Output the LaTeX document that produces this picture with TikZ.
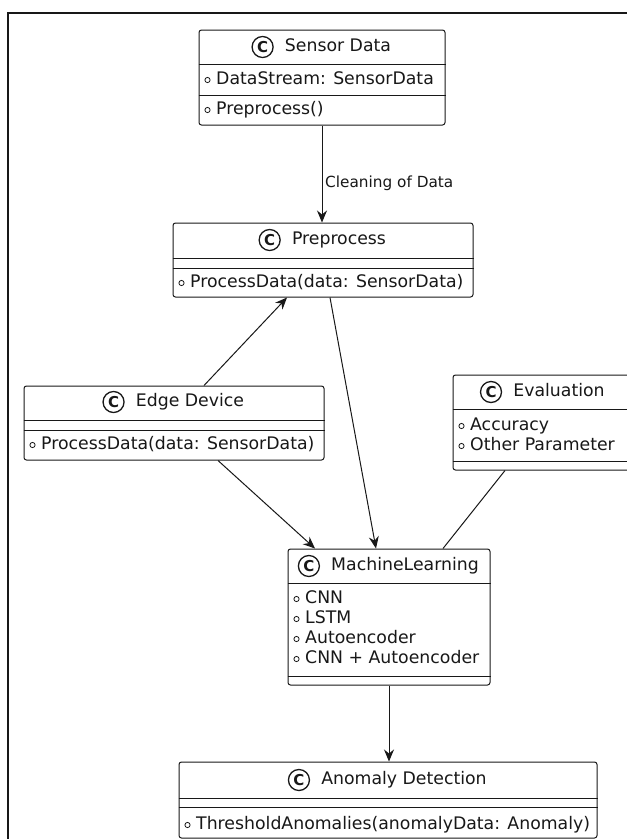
\documentclass[tikz,border=0pt]{standalone}
\usepackage{fontspec}
\setmainfont{DejaVu Sans}
\usetikzlibrary{arrows.meta,positioning,calc}
\definecolor{ink}{HTML}{181818}
\newcommand\mrow[4]{%
  \draw[dot] ($(#1.west|-0,#2)+(9,0)$) circle (2.6pt);
  \node[mem] (#3) at ($(#1.west|-0,#2)+(17.5,0)$) {#4};}
\newcommand\sepline[2]{\draw[sepl] (#1.west|-0,#2) -- (#1.east|-0,#2);}
\begin{document}
\begin{tikzpicture}[x=1pt,y=-1pt,
  cls/.style={draw=ink, line width=1pt, rounded corners=2.5pt, fill=white, inner sep=0pt},
  ttl/.style={font=\fontsize{17.3}{20}\selectfont, inner sep=0pt, text height=12.5pt, text depth=3.5pt, text=ink},
  mem/.style={ttl, anchor=west},
  cicon/.style={circle, draw=ink, line width=1.3pt, minimum size=21pt, inner sep=0pt, font=\fontsize{15}{15}\selectfont\bfseries, text=ink},
  dot/.style={draw=ink, line width=0.8pt},
  sepl/.style={draw=ink, line width=1pt},
  arr/.style={draw=ink, line width=1pt, -{Stealth[length=12pt,width=10pt,inset=4pt]}},
  lnk/.style={draw=ink, line width=1pt},
  lbl/.style={font=\fontsize{15.3}{18}\selectfont, inner sep=0pt, anchor=west, text=ink}
]
\useasboundingbox (0,0) rectangle (627,839);
\clip (0,0) rectangle (627,839);
\fill[white] (0,0) rectangle (627,839);
\draw[line width=2pt, ink] (8,860) -- (8,13) -- (650,13);

% Sensor Data
\node[cls, minimum width=246pt, minimum height=95pt] (sd) at (322,77.5) {};
\node[ttl] (sdt) at (338,47) {Sensor Data};
\node[cicon, left=11pt of sdt] (sdi) {C};
\sepline{sd}{64}
\mrow{sd}{80}{sda}{DataStream: SensorData}
\sepline{sd}{95}
\mrow{sd}{110}{sdm}{Preprocess()}

% Preprocess
\node[cls, minimum width=300pt, minimum height=74pt] (pp) at (323,260) {};
\node[ttl] (ppt) at (339,240) {Preprocess};
\node[cicon, left=11pt of ppt] (ppi) {C};
\sepline{pp}{258}
\sepline{pp}{268}
\mrow{pp}{283}{ppm}{ProcessData(data: SensorData)}

% Edge Device
\node[cls, minimum width=300pt, minimum height=74pt] (ed) at (174,423) {};
\node[ttl] (edt) at (190,402) {Edge Device};
\node[cicon, left=11pt of edt] (edi) {C};
\sepline{ed}{420}
\sepline{ed}{430}
\mrow{ed}{445}{edm}{ProcessData(data: SensorData)}

% Evaluation
\node[cls, minimum width=180pt, minimum height=95pt] (ev) at (543,422.5) {};
\node[ttl] (evt) at (559,392) {Evaluation};
\node[cicon, left=11pt of evt] (evi) {C};
\sepline{ev}{409}
\mrow{ev}{426}{eva}{Accuracy}
\mrow{ev}{446}{evb}{Other Parameter}
\sepline{ev}{461}

% MachineLearning
\node[cls, minimum width=202pt, minimum height=136pt] (ml) at (389,617) {};
\node[ttl] (mlt) at (405,566) {MachineLearning};
\node[cicon, left=11pt of mlt] (mli) {C};
\sepline{ml}{583}
\mrow{ml}{599}{mla}{CNN}
\mrow{ml}{619}{mlb}{LSTM}
\mrow{ml}{639}{mlc}{Autoencoder}
\mrow{ml}{659}{mld}{CNN + Autoencoder}
\sepline{ml}{676}

% Anomaly Detection
\node[cls, minimum width=418pt, minimum height=76pt] (ad) at (388,800) {};
\node[ttl] (adt) at (404,780) {Anomaly Detection};
\node[cicon, left=11pt of adt] (adi) {C};
\sepline{ad}{798}
\sepline{ad}{807}
\mrow{ad}{825}{adm}{ThresholdAnomalies(anomalyData: Anomaly)}

% connectors
\draw[arr] (sd.south) -- (sd.south |- pp.north);
\node[lbl] (l1) at (325,183) {Cleaning of Data};
\draw[arr] ($(ed.north)+(30,0)$) -- ($(pp.south)+(-36,0)$);
\draw[arr] ($(pp.south)+(7,0)$) -- ($(ml.north)+(-13,0)$);
\draw[arr] ($(ed.south)+(44,0)$) -- ($(ml.north)+(-74,0)$);
\draw[lnk] ($(ev.south)+(-38,0)$) -- ($(ml.north)+(54,0)$);
\draw[arr] (ml.south) -- (ml.south |- ad.north);
\end{tikzpicture}
\end{document}
